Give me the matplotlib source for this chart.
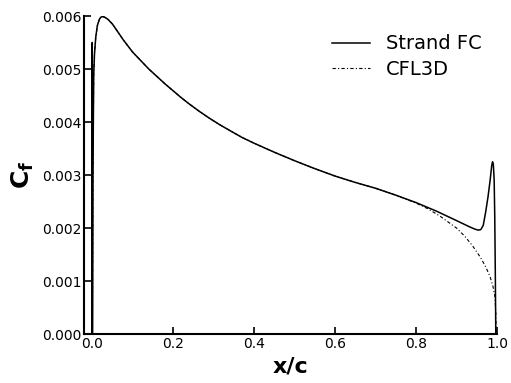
import matplotlib
matplotlib.use('Agg')
import matplotlib.pyplot as plt

# skin friction, Strand FC solver
x_strand = [0.0, 0.0003, 0.0008, 0.002, 0.004, 0.006, 0.009, 0.013, 0.018, 0.022,
            0.026, 0.03, 0.035, 0.04, 0.05, 0.06, 0.077, 0.09, 0.1, 0.12,
            0.14, 0.16, 0.18, 0.2, 0.22, 0.24, 0.265, 0.29, 0.315, 0.34,
            0.37, 0.4, 0.45, 0.5, 0.55, 0.6, 0.65, 0.7, 0.75, 0.8, 0.85,
            0.9, 0.93, 0.945, 0.954, 0.96, 0.966, 0.972, 0.978, 0.983, 0.987,
            0.989, 0.991, 0.993, 0.9945, 0.996, 0.997]
cf_strand = [0.0, 0.0055, 0.0, 0.0030, 0.0049, 0.0053, 0.0056, 0.00582, 0.00594, 0.00598,
             0.00599, 0.00598, 0.00596, 0.00593, 0.00585, 0.00574, 0.00555, 0.00542, 0.00532, 0.00516,
             0.005, 0.00486, 0.00472, 0.00459, 0.00446, 0.00434, 0.0042, 0.00407, 0.00395, 0.00384,
             0.00371, 0.0036, 0.00343, 0.00327, 0.00312, 0.00298, 0.00286, 0.00275, 0.00262, 0.00248, 0.00232,
             0.00214, 0.00203, 0.00198, 0.00196, 0.00197, 0.00205, 0.0023, 0.0026, 0.0029, 0.00318,
             0.00325, 0.0032, 0.0029, 0.0022, 0.001, 0.0]

# CFL3D reference
x_cfl = [0.0008, 0.002, 0.004, 0.006, 0.009, 0.013, 0.018, 0.022,
         0.026, 0.03, 0.035, 0.04, 0.05, 0.06, 0.077, 0.09, 0.1, 0.12,
         0.14, 0.16, 0.18, 0.2, 0.22, 0.24, 0.265, 0.29, 0.315, 0.34,
         0.37, 0.4, 0.45, 0.5, 0.55, 0.6, 0.65, 0.7, 0.75, 0.8, 0.83,
         0.86, 0.9, 0.921, 0.94, 0.958, 0.972, 0.983, 0.99, 0.995, 0.997, 0.998]
cf_cfl = [0.0, 0.0030, 0.0049, 0.0053, 0.0056, 0.00582, 0.00594, 0.00598,
          0.00599, 0.00598, 0.00596, 0.00593, 0.00585, 0.00574, 0.00555, 0.00542, 0.00532, 0.00516,
          0.005, 0.00486, 0.00472, 0.00459, 0.00446, 0.00434, 0.0042, 0.00407, 0.00395, 0.00384,
          0.00371, 0.0036, 0.00343, 0.00327, 0.00312, 0.00298, 0.00286, 0.00275, 0.00262, 0.00247, 0.00236,
          0.00222, 0.002, 0.00184, 0.00166, 0.00146, 0.00127, 0.00108, 0.0009, 0.0007, 0.0004, 0.0]

xticks = [0.0, 0.2, 0.4, 0.6, 0.8, 1.0]
yticks = [0.0, 0.001, 0.002, 0.003, 0.004, 0.005, 0.006]

fig = plt.figure(figsize=(5.11, 3.83), dpi=100)
ax = fig.add_axes([0.1644, 0.1279, 0.8082, 0.8303])

ax.plot(x_strand, cf_strand, color='black', lw=1.1, label='Strand FC')
ax.plot(x_cfl, cf_cfl, color='black', lw=0.8, linestyle=(0, (3, 2, 1, 2)), label='CFL3D')

ax.set_xlim(-0.02, 1.0)
ax.set_ylim(0.0, 0.006)
ax.set_xticks(xticks)
ax.set_xticklabels(['%.1f' % v for v in xticks])
ax.set_yticks(yticks)
ax.set_yticklabels(['%.3f' % v for v in yticks])
ax.tick_params(direction='in', length=5, width=1.2, labelsize=10, pad=2)
ax.spines['top'].set_visible(False)
ax.spines['right'].set_visible(False)
ax.spines['left'].set_linewidth(1.5)
ax.spines['bottom'].set_linewidth(1.5)

ax.set_xlabel('x/c', fontsize=16, fontweight='bold', labelpad=4)
ax.set_ylabel(r'$\mathbf{C_f}$', fontsize=18, labelpad=4)

ax.legend(loc='upper right', frameon=False, fontsize=14, handlelength=1.95,
          borderaxespad=0.3, bbox_to_anchor=(0.995, 0.985), labelspacing=0.35)

fig.savefig('out.png', dpi=100)
